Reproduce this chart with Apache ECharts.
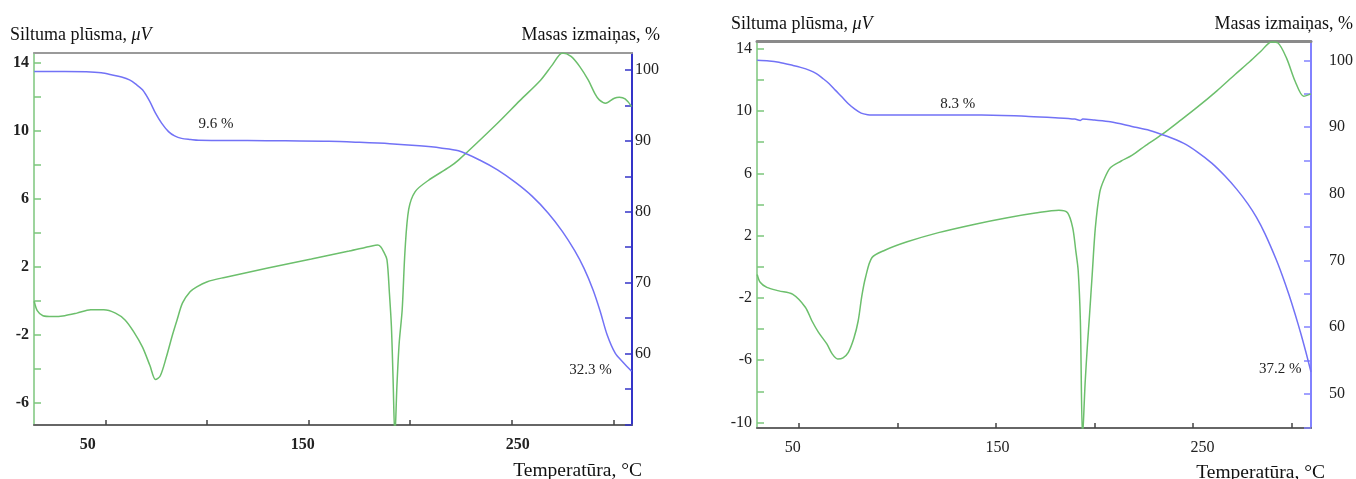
<!DOCTYPE html>
<html>
<head>
<meta charset="utf-8">
<script src="https://cdn.jsdelivr.net/npm/echarts@6/dist/echarts.min.js"></script>
<style>
html,body{margin:0;padding:0;background:#fff;}
#c{width:1356px;height:479px;}
</style>
</head>
<body>
<div id="c"></div>
<script>
// ---------- Left chart (sample 1) ----------
const tempL_dsc = [15, 16.5, 19.3, 24, 30, 36, 42.8, 49.2, 55, 59.7, 64, 68.3, 72, 74.7, 77, 80, 83, 85.3, 88, 91.7, 95, 100.2, 108.7, 130, 151.4, 170, 181.2, 184, 185.5, 187, 188.6, 189.8, 190.8, 191.6, 192.5, 193.5, 194.6, 196.1, 197.5, 199.3, 202.5, 208.9, 219.4, 223.8, 243, 254, 264.2, 270, 275, 279.2, 283.5, 287.7, 291, 293.1, 296.2, 300.5, 303, 305.8, 309];
const heatL = [0, -0.55, -0.85, -0.9, -0.85, -0.7, -0.5, -0.5, -0.7, -1.1, -1.8, -2.7, -3.8, -4.6, -4.4, -3.3, -2.0, -1.1, -0.1, 0.56, 0.85, 1.15, 1.4, 1.95, 2.48, 2.95, 3.25, 3.3, 3.2, 2.9, 2.45, 0.5, -1.5, -4.5, -8, -5, -2.5, -0.5, 3, 5.4, 6.45, 7.1, 7.9, 8.3, 10.47, 11.8, 13.0, 13.9, 14.6, 14.4, 13.8, 13.0, 12.2, 11.84, 11.65, 11.94, 12.0, 11.9, 11.45];
const tempL_tg = [15, 30, 40.6, 48, 53.4, 58, 61.9, 65, 68.3, 71.8, 74.7, 77.7, 81.1, 84.1, 87.5, 92, 95.9, 120, 138.6, 160, 174.8, 190, 204.6, 215, 223.8, 234.2, 243, 252, 260, 268, 275, 281, 285.6, 290, 293.5, 297, 301, 305, 309];
const massL = [99.8, 99.8, 99.75, 99.6, 99.3, 99.0, 98.6, 98.0, 97.2, 95.6, 93.9, 92.5, 91.3, 90.7, 90.35, 90.2, 90.1, 90.05, 90.0, 89.95, 89.8, 89.6, 89.3, 89.0, 88.6, 87.3, 85.9, 84.1, 82.2, 79.8, 77.2, 74.5, 72.0, 69.0, 66.0, 62.6, 60.0, 58.7, 57.5];
const notesL = [{text: '9.6 %', t: 104.5, m: 92.4}, {text: '32.3 %', t: 288.8, m: 57.6}];

// ---------- Right chart (sample 2) ----------
const tempR_dsc = [29, 30.5, 33.9, 40, 46.9, 53.4, 56.7, 60, 64.3, 67, 69.8, 72.5, 75.2, 78, 80.2, 82, 83.9, 87.2, 93.7, 105, 120.9, 140, 155.8, 170, 181.9, 186.3, 188.9, 190.5, 191.7, 192.8, 193.9, 195.2, 196.4, 197.4, 198.8, 200.4, 202.6, 204.8, 208, 213.5, 218.9, 226, 234.2, 243, 251.6, 262, 271.2, 278, 284.3, 289.7, 293, 297.3, 301.7, 306, 309.7];
const heatR = [-0.5, -1.0, -1.33, -1.55, -1.76, -2.6, -3.47, -4.2, -4.96, -5.6, -5.92, -5.85, -5.5, -4.6, -3.47, -1.9, -0.69, 0.59, 1.06, 1.6, 2.19, 2.75, 3.15, 3.45, 3.63, 3.47, 2.51, 1.0, -0.26, -3.47, -11, -7.5, -5, -3.2, -0.5, 2.51, 4.76, 5.6, 6.36, 6.79, 7.15, 7.8, 8.5, 9.35, 10.2, 11.3, 12.35, 13.1, 13.84, 14.44, 14.37, 13.4, 11.9, 10.95, 11.1];
const tempR_tg = [29, 35, 40, 46.9, 51, 55.6, 59, 62.2, 65.5, 68.7, 72, 75.2, 78.5, 81.7, 85, 87.2, 100, 120, 142.7, 166.6, 180, 190, 192.8, 194, 200, 208, 218.9, 228, 236, 245, 252, 259.4, 266, 272, 277.7, 282, 286.4, 292, 295.1, 298.5, 301.7, 304.5, 307, 309.7];
const massR = [100.0, 99.9, 99.7, 99.25, 98.95, 98.5, 98.0, 97.3, 96.5, 95.5, 94.5, 93.5, 92.7, 92.1, 91.85, 91.8, 91.8, 91.8, 91.8, 91.6, 91.4, 91.2, 91.0, 91.2, 91.05, 90.8, 90.1, 89.5, 88.7, 87.6, 86.3, 84.6, 82.7, 80.7, 78.5, 76.5, 74.0, 70.2, 67.8, 64.9, 61.9, 59.1, 56.4, 53.3];
const notesR = [{text: '8.3 %', t: 130.7, m: 93.4}, {text: '37.2 %', t: 294.1, m: 53.7}];

// ---------- Tick labels ----------
const xTicks = [50, 100, 150, 200, 250, 300];
const xLabels = [50, 150, 250];
const yTicksL = [-6, -4, -2, 0, 2, 4, 6, 8, 10, 12, 14];
const yLabelsL = [-6, -2, 2, 6, 10, 14];
const mTicksL = [50, 55, 60, 65, 70, 75, 80, 85, 90, 95, 100];
const mLabelsL = [60, 70, 80, 90, 100];
const yTicksR = [-10, -8, -6, -4, -2, 0, 2, 4, 6, 8, 10, 12, 14];
const yLabelsR = [-10, -6, -2, 2, 6, 10, 14];
const mTicksR = [45, 50, 55, 60, 65, 70, 75, 80, 85, 90, 95, 100];
const mLabelsR = [50, 60, 70, 80, 90, 100];

const titleLeft = 'Siltuma plūsma, ';
const titleUnit = 'μV';
const titleRight = 'Masas izmaiņas, %';
const titleX = 'Temperatūra, °C';

const SERIF = '"Liberation Serif","Times New Roman",serif';
const GREEN = '#6cbf6c';
const GREEN_AX = '#7cc67c';
const BLUE = '#7272f6';

function zip(a, b) { return a.map((v, i) => [v, b[i]]); }

function xAxesFor(g, dataMin, dataMax, lblMin, lblMax, bold, borderColor, borderWidth) {
  return [
    { gridIndex: g, type: 'value', position: 'bottom', min: dataMin, max: dataMax,
      axisLine: { show: true, onZero: false, lineStyle: { color: '#666', width: 2 } },
      axisTick: { show: true, inside: true, length: 5, customValues: xTicks, lineStyle: { color: '#444', width: 1.5 } },
      axisLabel: { show: false }, splitLine: { show: false } },
    { gridIndex: g, type: 'value', position: 'bottom', min: lblMin, max: lblMax,
      axisLine: { show: false, onZero: false }, axisTick: { show: false },
      axisLabel: { show: true, customValues: xLabels, margin: 12, fontFamily: SERIF, fontSize: 16,
        fontWeight: bold ? 'bold' : 'normal', color: '#222' },
      splitLine: { show: false } },
    { gridIndex: g, type: 'value', position: 'top', min: dataMin, max: dataMax,
      axisLine: { show: true, onZero: false, lineStyle: { color: borderColor, width: borderWidth } },
      axisTick: { show: false }, axisLabel: { show: false }, splitLine: { show: false } }
  ];
}

function yAxisFor(g, pos, min, max, ticks, labels, color, margin, bold, width) {
  return { gridIndex: g, type: 'value', position: pos, min: min, max: max,
    axisLine: { show: true, onZero: false, lineStyle: { color: color, width: width } },
    axisTick: { show: true, inside: true, length: 7, customValues: ticks, lineStyle: { color: color, width: 1.5 } },
    axisLabel: { show: true, customValues: labels, margin: margin, fontFamily: SERIF, fontSize: 16,
      fontWeight: bold ? 'bold' : 'normal', color: '#222' },
    splitLine: { show: false } };
}

function notePoints(notes) {
  return {
    symbol: 'circle', symbolSize: 0, silent: true,
    data: notes.map(n => ({ coord: [n.t, n.m], label: { formatter: n.text } })),
    label: { show: true, position: 'inside', fontFamily: SERIF, fontSize: 15, color: '#222' }
  };
}

const chart = echarts.init(document.getElementById('c'), null, { renderer: 'canvas' });

const titleStyle = { fontFamily: SERIF, fontSize: 18, fontWeight: 'normal', color: '#111',
  rich: { i: { fontFamily: SERIF, fontSize: 18, fontStyle: 'italic', color: '#111' } } };
const axisTitleStyle = { fontFamily: SERIF, fontSize: 19.5, fontWeight: 'normal', color: '#111' };

chart.setOption({
  animation: false,
  backgroundColor: '#fff',
  title: [
    { text: titleLeft + '{i|' + titleUnit + '}', left: 10, top: 26, textStyle: titleStyle, padding: 0 },
    { text: titleRight, right: 696, top: 26, textStyle: titleStyle, padding: 0 },
    { text: titleX, right: 714, top: 461, textStyle: axisTitleStyle, padding: 0 },
    { text: titleLeft + '{i|' + titleUnit + '}', left: 731, top: 15, textStyle: titleStyle, padding: 0 },
    { text: titleRight, right: 3, top: 15, textStyle: titleStyle, padding: 0 },
    { text: titleX, right: 31, top: 463, textStyle: axisTitleStyle, padding: 0 }
  ],
  grid: [
    { left: 34, right: 724, top: 53, bottom: 54, containLabel: false },
    { left: 757, right: 41, top: 41, bottom: 51, containLabel: false }
  ],
  xAxis: [].concat(
    xAxesFor(0, 14.9, 309.2, 25.0, 303.2, true, '#9a9a9a', 2),
    xAxesFor(1, 28.9, 309.7, 32.6, 302.9, false, '#8a8a8a', 3)
  ),
  yAxis: [
    yAxisFor(0, 'left', -7.28, 14.6, yTicksL, yLabelsL, GREEN_AX, 5, true, 1.5),
    yAxisFor(0, 'right', 49.9, 102.4, mTicksL, mLabelsL, '#3434c8', 3, false, 2),
    yAxisFor(1, 'left', -10.36, 14.5, yTicksR, yLabelsR, GREEN_AX, 5, false, 1.5),
    yAxisFor(1, 'right', 44.9, 102.9, mTicksR, mLabelsR, '#8282ff', 18, false, 2)
  ],
  series: [
    { type: 'line', xAxisIndex: 0, yAxisIndex: 0, data: zip(tempL_dsc, heatL), showSymbol: false, smooth: 0.3,
      lineStyle: { color: GREEN, width: 1.5 }, itemStyle: { color: GREEN }, clip: true },
    { type: 'line', xAxisIndex: 0, yAxisIndex: 1, data: zip(tempL_tg, massL), showSymbol: false, smooth: 0.3,
      lineStyle: { color: BLUE, width: 1.5 }, itemStyle: { color: BLUE }, clip: true, markPoint: notePoints(notesL) },
    { type: 'line', xAxisIndex: 3, yAxisIndex: 2, data: zip(tempR_dsc, heatR), showSymbol: false, smooth: 0.3,
      lineStyle: { color: GREEN, width: 1.5 }, itemStyle: { color: GREEN }, clip: true },
    { type: 'line', xAxisIndex: 3, yAxisIndex: 3, data: zip(tempR_tg, massR), showSymbol: false, smooth: 0.3,
      lineStyle: { color: BLUE, width: 1.5 }, itemStyle: { color: BLUE }, clip: true, markPoint: notePoints(notesR) }
  ]
});
</script>
</body>
</html>
